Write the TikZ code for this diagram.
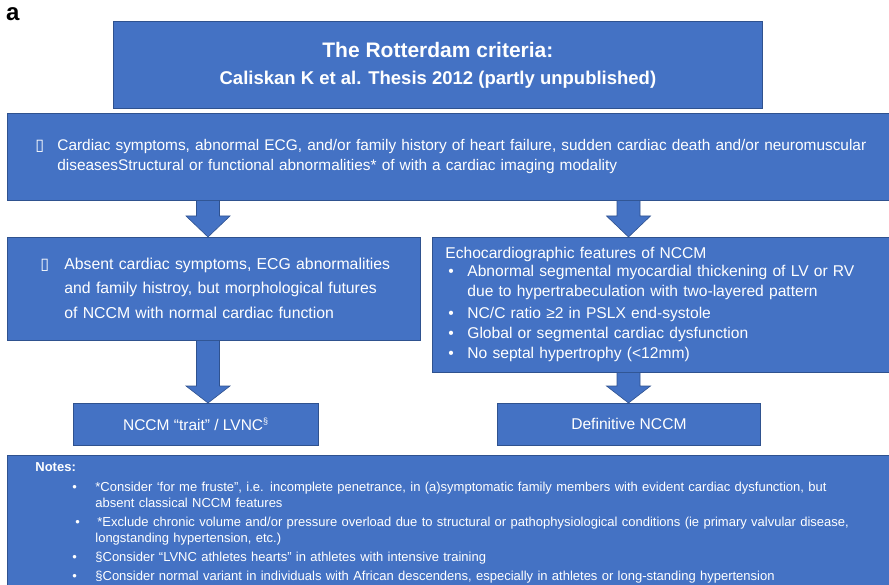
\documentclass[tikz,border=0pt]{standalone}
\usepackage{fontspec}
\setmainfont{Liberation Sans}
\newfontfamily\symbfont{DejaVu Sans}
\usetikzlibrary{calc}
\definecolor{boxblue}{RGB}{68,114,196}
\definecolor{boxline}{RGB}{47,82,143}

\begin{document}
\begin{tikzpicture}[x=1pt,y=-1pt,
	box/.style={draw=boxline, fill=boxblue, text=white, anchor=north west, line width=0.8pt, inner sep=0pt},
	blockarrow/.style={draw=boxline, fill=boxblue, line width=0.6pt,
		to path={let \p1=(\tikztostart), \p2=(\tikztotarget) in
			(\x1-11.5pt,\y1) -- (\x1-11.5pt,\y2+#1) -- (\x1-22pt,\y2+#1) -- (\x2,\y2) -- (\x1+22pt,\y2+#1) -- (\x1+11.5pt,\y2+#1) -- (\x1+11.5pt,\y1)}},
	blockarrow/.default=19pt]
	\useasboundingbox (0,0) rectangle (889,585);
	\clip (0,0) rectangle (889,585);
	\node [anchor=base west, inner sep=0pt, font=\fontsize{24}{24}\selectfont\bfseries] (lbl) at (6,21) {a};
	\node [box, minimum width=649, minimum height=87, align=center, font=\fontsize{18.5}{27}\selectfont\bfseries] (title) at (113,21) {{\fontsize{21}{27}\selectfont The Rotterdam criteria:}\\Caliskan K et al. Thesis 2012 (partly unpublished)};
	\node [box, minimum height=87, inner xsep=28, text width=850, align=left, font=\fontsize{15.4}{20}\selectfont] (crit) at (7,113) {\begin{tabular}{@{}p{22pt}@{}l@{}}{\fontsize{16}{20}\symbfont ▯} & Cardiac symptoms, abnormal ECG, and/or family history of heart failure, sudden cardiac death and/or neuromuscular\\ & diseasesStructural or functional abnormalities* of with a cardiac imaging modality\end{tabular}};
	\node [box, minimum height=103, inner xsep=33, text width=347, align=left, font=\fontsize{15.8}{24.5}\selectfont] (absent) at (7,237) {\begin{tabular}{@{}p{24pt}@{}l@{}}{\fontsize{16}{24.5}\symbfont ▯} & Absent cardiac symptoms, ECG abnormalities\\ & and family histroy, but morphological futures\\ & of NCCM with normal cardiac function\end{tabular}};
	\node [box, minimum height=135, inner xsep=13, text width=434, align=left, font=\fontsize{15.6}{20}\selectfont] (echo) at (432,237) {\begin{tabular}{@{}p{22pt}@{}l@{}}\multicolumn{2}{@{}l@{}}{Echocardiographic features of NCCM}\\[-2pt] \hspace*{3pt}• & Abnormal segmental myocardial thickening of LV or RV\\ & due to hypertrabeculation with two-layered pattern\\[2pt] \hspace*{3pt}• & NC/C ratio ≥2 in PSLX end-systole\\ \hspace*{3pt}• & Global or segmental cardiac dysfunction\\ \hspace*{3pt}• & No septal hypertrophy (<12mm)\end{tabular}};
	\node [box, minimum width=245, minimum height=42, font=\fontsize{15.5}{18}\selectfont] (trait) at (73,403) {NCCM “trait” / LVNC\textsuperscript{\fontsize{9}{9}\selectfont §}};
	\node [box, minimum width=263, minimum height=42, font=\fontsize{15.6}{18}\selectfont] (definitive) at (497,403) {Definitive NCCM};
	\node [box, inner xsep=28, inner ysep=5.3, text width=850, align=left, font=\fontsize{13}{16}\selectfont] (notes) at (7,455) {\begin{tabular}{@{}p{60pt}@{}l@{}}\multicolumn{2}{@{}l@{}}{\fontsize{13}{16}\selectfont\bfseries Notes:}\\[4pt] \hspace*{37pt}• & *Consider ‘for me fruste”, i.e. incomplete penetrance, in (a)symptomatic family members with evident cardiac dysfunction, but\\ & absent classical NCCM features\\[3pt] \hspace*{40pt}• & \hspace*{2pt}*Exclude chronic volume and/or pressure overload due to structural or pathophysiological conditions (ie primary valvular disease,\\ & longstanding hypertension, etc.)\\[3pt] \hspace*{37pt}• & §Consider “LVNC athletes hearts” in athletes with intensive training\\[3pt] \hspace*{37pt}• & §Consider normal variant in individuals with African descendens, especially in athletes or long-standing hypertension\end{tabular}};
	\coordinate (lcol) at (208,0);
	\coordinate (rcol) at (628.5,0);
	\draw [blockarrow=21pt] (lcol |- crit.south) to (lcol |- absent.north);
	\draw [blockarrow=21pt] (rcol |- crit.south) to (rcol |- echo.north);
	\draw [blockarrow=17pt] (lcol |- absent.south) to (lcol |- trait.north);
	\draw [blockarrow=17pt] (rcol |- echo.south) to (rcol |- definitive.north);
\end{tikzpicture}
\end{document}
